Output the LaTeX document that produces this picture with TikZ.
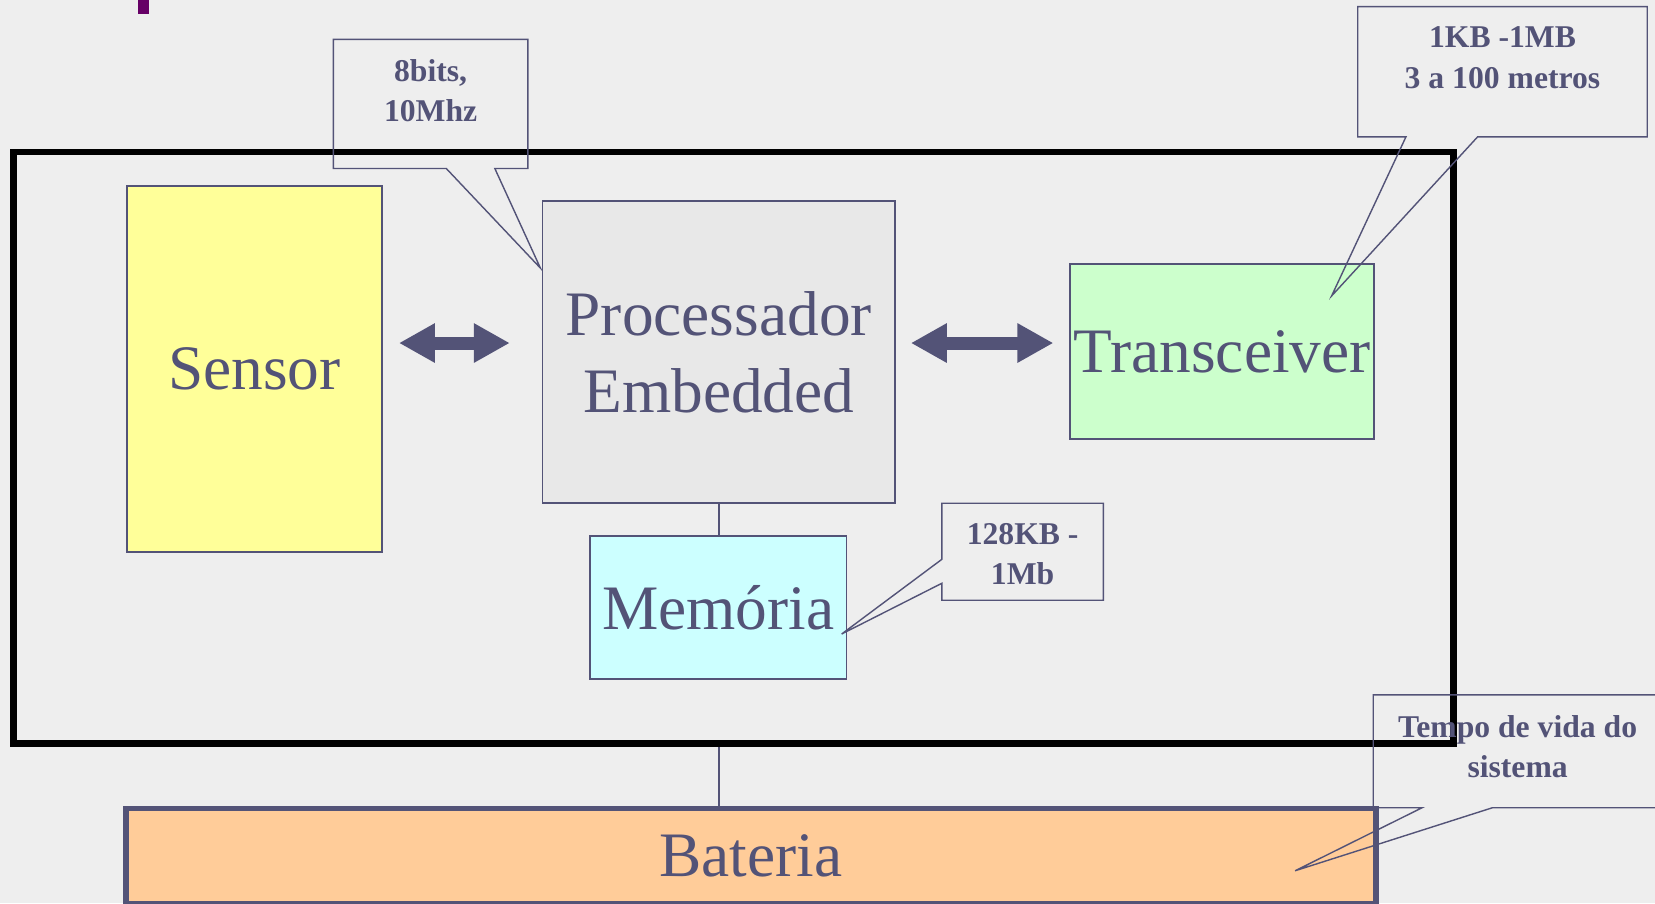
\documentclass[tikz,border=0pt]{standalone}
\usepackage{fontspec}
\setmainfont{Liberation Serif}
\usetikzlibrary{arrows.meta,calc}
\definecolor{paper}{HTML}{EEEEEE}
\definecolor{slate}{HTML}{535377}
\definecolor{sensorfill}{HTML}{FFFF99}
\definecolor{cpufill}{HTML}{E8E8E8}
\definecolor{radiofill}{HTML}{CCFFCC}
\definecolor{memfill}{HTML}{CCFFFF}
\definecolor{battfill}{HTML}{FFCC99}
\definecolor{plum}{HTML}{660066}
\newcommand\blockfont{\fontsize{18pt}{21.9pt}\selectfont}
\newcommand\notefont{\fontsize{9pt}{11.4pt}\selectfont\bfseries}
\begin{document}
\begin{tikzpicture}[x=0.3pt,y=-0.3pt,
  block/.style={draw=slate, line width=0.55pt, inner sep=0pt, font=\blockfont, text=slate, align=center},
  notebox/.style={inner sep=0pt},
  noteline/.style={draw=slate, line width=0.4pt, line join=miter},
  notetext/.style={font=\notefont, text=slate, align=center, inner sep=0pt, anchor=north},
  link/.style={draw=slate, line width=0.45pt},
  dbl/.style={draw=slate, line width=3.7pt,
    arrows={Triangle[length=10.2pt,width=10.5pt]-Triangle[length=10.2pt,width=10.5pt]}}]
\clip (0,0) rectangle (1568,856);
\fill[paper] (0,0) rectangle (1568,856);
% small title fragment at the top edge
\fill[plum] (131,0) rectangle (141,13);

% node frame
\node[draw=black, line width=1.95pt, inner sep=0pt,
      minimum width=1364*0.3pt, minimum height=560.5*0.3pt] (frame) at (695,424.25) {};

% components
\node[block, fill=sensorfill, minimum width=242*0.3pt, minimum height=347*0.3pt] (sensor) at (241,349.5) {Sensor};
\node[block, fill=cpufill, minimum width=334*0.3pt, minimum height=287*0.3pt] (cpu) at (681,333.5) {Processador\\Embedded};
\node[block, fill=radiofill, minimum width=288*0.3pt, minimum height=166*0.3pt] (radio) at (1158,333) {Transceiver};
\node[block, fill=memfill, minimum width=243*0.3pt, minimum height=135*0.3pt] (mem) at (680.5,575.5) {Memória};
\node[block, fill=battfill, line width=1.7pt, minimum width=1184*0.3pt, minimum height=90*0.3pt] (batt) at (711.5,811) {Bateria};

% wiring
\draw[link] (cpu.south) -- (mem.north -| cpu.south);
\draw[link] (frame.south -| cpu.south) -- (batt.north -| cpu.south);

% data paths
\coordinate (s1) at (378,325);
\coordinate (s2) at (483,325);
\coordinate (r1) at (863,325);
\coordinate (r2) at (998,325);
\draw[dbl] (s1) -- (s2);
\draw[dbl] (r1) -- (r2);

% callouts
\coordinate (t1) at (512,254);
\coordinate (t2) at (1261.6,280.4);
\coordinate (t3) at (797.4,600.7);
\coordinate (t4) at (1227,825);

\node[notebox, minimum width=183*0.3pt, minimum height=121*0.3pt] (n1) at (408,98.5) {};
\draw[noteline] (n1.north west) -- (n1.north east) -- (n1.south east)
  -- ($(n1.south west)+(153,0)$) -- (t1) -- ($(n1.south west)+(107,0)$) -- (n1.south west) -- cycle;
\node[notetext] at ($(n1.north)+(0,18.6)$) {8bits,\\10Mhz};

\node[notebox, minimum width=273*0.3pt, minimum height=122*0.3pt] (n2) at (1423.5,68) {};
\draw[noteline] (n2.north west) -- (n2.north east) -- (n2.south east)
  -- ($(n2.south west)+(113.6,0)$) -- (t2) -- ($(n2.south west)+(45.7,0)$) -- (n2.south west) -- cycle;
\node[notetext] at ($(n2.north)+(0,18.6)$) {1KB -1MB\\3 a 100 metros};

\node[notebox, minimum width=151.7*0.3pt, minimum height=90.5*0.3pt] (n3) at (968.85,522.75) {};
\draw[noteline] (n3.north west) -- (n3.north east) -- (n3.south east) -- (n3.south west)
  -- ($(n3.north west)+(0,75.8)$) -- (t3) -- ($(n3.north west)+(0,53.1)$) -- cycle;
\node[notetext] at ($(n3.north)+(0,18.6)$) {128KB -\\1Mb};

\node[notebox, minimum width=272.3*0.3pt, minimum height=105.6*0.3pt] (n4) at (1437.85,711.8) {};
\draw[noteline] (n4.north west) -- (n4.north east) -- (n4.south east)
  -- ($(n4.south west)+(113,0)$) -- (t4) -- ($(n4.south west)+(46.3,0)$) -- (n4.south west) -- cycle;
\node[notetext] at ($(n4.north)+(0,18.6)$) {Tempo de vida do\\sistema};
\end{tikzpicture}
\end{document}
